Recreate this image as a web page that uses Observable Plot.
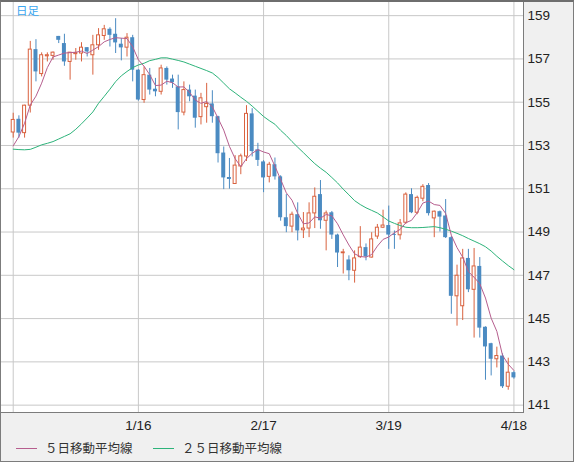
<!DOCTYPE html>
<html><head><meta charset="utf-8">
<script src="https://cdn.jsdelivr.net/npm/d3@7"></script>
<script src="https://cdn.jsdelivr.net/npm/@observablehq/plot@0.6"></script>
<style>
html,body{margin:0;padding:0;background:#fff;}
#wrap{position:relative;width:574px;height:462px;background:#f0f0f0;overflow:hidden;}
#chart{position:absolute;left:0;top:0;}
#border{position:absolute;left:0;top:0;width:574px;height:462px;box-sizing:border-box;border:1px solid #7c7c7c;border-top:2px solid #6e6e6e;pointer-events:none;}
#title{position:absolute;left:16px;top:2px;font-family:"Noto Sans CJK JP";font-size:11.5px;line-height:16px;color:#3aa6f0;}
.lg{position:absolute;top:439px;font-family:"Noto Sans CJK JP";font-size:12.5px;line-height:18px;color:#333;white-space:nowrap;}
.sw{position:absolute;top:448px;height:0;border-top:1px solid;}
</style></head><body>
<div id="wrap">
  <div id="chart"></div>
  <div id="title">日足</div>
  <div class="sw" id="sw5" style="left:16px;width:21px;border-color:#b65e8e"></div>
  <div class="lg" id="lg5" style="left:45px"></div>
  <div class="sw" id="sw25" style="left:153px;width:21px;border-color:#2db37a"></div>
  <div class="lg" id="lg25" style="left:182px"></div>
  <div id="border"></div>
</div>
<script>
// ---- data (USD/JPY daily) ----
const dates = ["12/17","12/18","12/19","12/20","12/23","12/24","12/25","12/26","12/27","12/30","12/31",
"1/1","1/2","1/3","1/6","1/7","1/8","1/9","1/10","1/13","1/14","1/15","1/16","1/17","1/20","1/21","1/22","1/23","1/24","1/27","1/28","1/29","1/30","1/31",
"2/3","2/4","2/5","2/6","2/7","2/10","2/11","2/12","2/13","2/14","2/17","2/18","2/19","2/20","2/21","2/24","2/25","2/26","2/27","2/28",
"3/3","3/4","3/5","3/6","3/7","3/10","3/11","3/12","3/13","3/14","3/17","3/18","3/19","3/20","3/21","3/24","3/25","3/26","3/27","3/28","3/31",
"4/1","4/2","4/3","4/4","4/7","4/8","4/9","4/10","4/11","4/14","4/15","4/16","4/17","4/18"];
const open = [153.60,154.21,153.57,154.84,157.43,156.30,157.12,157.14,158.04,157.71,156.86,157.22,157.25,157.52,157.17,157.63,158.06,158.37,158.14,157.68,157.52,157.98,156.48,155.10,156.25,155.60,155.48,156.56,156.07,155.71,154.52,155.56,155.28,154.31,154.77,154.92,154.33,152.65,151.52,151.22,152.03,152.49,154.46,152.80,152.24,151.55,152.11,151.55,149.66,149.25,149.80,149.08,149.16,149.86,150.73,149.52,149.89,148.86,148.02,147.71,147.21,147.84,148.28,147.82,148.79,149.20,149.30,148.88,148.85,149.43,150.73,149.89,150.54,151.15,149.63,149.94,149.74,148.74,146.03,145.57,147.78,146.33,147.41,144.60,143.84,143.12,143.27,141.85,142.50];
const high = [154.49,154.37,154.86,157.81,157.89,157.28,157.28,157.32,158.04,158.14,157.29,157.48,157.75,157.52,158.09,158.40,158.55,158.44,158.86,157.94,158.17,158.09,156.50,156.63,156.56,156.10,156.71,156.63,156.25,156.25,155.94,155.79,155.56,155.41,155.87,155.53,154.35,152.93,152.40,152.53,152.60,154.84,154.70,153.10,152.30,152.22,152.42,151.60,150.73,149.92,150.35,149.90,150.35,151.04,151.38,149.97,149.95,148.90,148.20,147.90,148.13,149.25,148.45,148.97,149.35,150.01,150.20,149.05,149.58,150.81,151.00,150.66,151.19,151.24,149.97,149.97,150.50,148.80,147.47,148.20,148.20,148.24,147.82,144.62,143.86,143.68,143.37,143.17,142.55];
const low = [153.34,153.34,153.34,154.50,155.94,156.17,156.86,156.94,157.71,156.66,156.02,156.94,156.86,157.09,156.25,157.40,157.86,157.55,157.25,156.91,157.09,155.94,155.05,154.95,155.33,155.25,155.33,155.79,155.64,153.72,154.37,155.02,153.80,153.95,154.03,154.03,152.19,150.96,150.98,151.20,151.65,152.26,152.47,152.03,150.82,151.27,151.40,149.50,148.97,148.97,148.59,148.70,148.74,149.16,149.13,148.13,148.66,147.36,147.06,146.75,146.64,147.78,147.67,147.80,148.66,149.16,148.20,148.20,148.63,149.35,149.85,149.80,150.40,149.74,148.74,149.00,148.70,145.20,144.65,144.91,146.20,144.10,144.10,142.15,142.35,142.72,141.77,141.69,142.20];
const close = [154.18,153.57,154.84,157.43,156.40,157.17,157.17,157.29,157.86,156.86,157.29,157.27,157.52,157.32,157.63,158.09,158.37,158.09,157.74,157.51,157.98,156.48,155.10,156.25,155.56,155.48,156.56,156.02,155.90,154.52,155.56,155.25,154.26,155.18,154.92,154.33,152.62,151.50,151.43,152.07,152.50,154.46,152.72,152.31,151.50,152.11,151.55,149.66,149.25,149.80,149.05,149.16,149.86,150.63,149.52,149.86,148.86,148.03,148.06,147.21,147.78,148.28,147.85,148.66,149.20,149.30,148.86,148.84,149.40,150.73,149.89,150.58,151.09,149.85,149.94,149.69,148.74,146.03,146.98,147.78,146.33,147.41,144.56,143.69,143.12,143.27,141.85,142.50,142.26];
const ma5 = [152.98,153.41,154.03,154.87,155.28,155.88,156.60,157.09,157.18,157.27,157.29,157.31,157.36,157.25,157.41,157.57,157.79,157.90,157.98,157.96,157.94,157.56,156.96,156.66,156.27,155.77,155.79,155.97,155.90,155.70,155.71,155.45,155.10,154.95,155.03,154.79,154.26,153.71,152.96,152.39,152.02,152.39,152.64,152.81,152.70,152.62,152.04,151.43,150.81,150.47,149.86,149.38,149.42,149.70,149.64,149.81,149.75,149.38,148.87,148.40,147.99,147.87,147.84,147.96,148.35,148.66,148.77,148.97,149.12,149.43,149.54,149.89,150.34,150.43,150.27,150.23,149.86,148.85,148.28,147.84,147.17,146.91,146.61,145.95,145.02,144.41,143.30,142.89,142.60];
const ma25 = [152.83,152.81,152.80,152.82,152.92,153.03,153.10,153.18,153.30,153.42,153.54,153.75,154.00,154.27,154.55,154.95,155.27,155.60,155.95,156.22,156.42,156.60,156.72,156.80,156.92,156.98,157.05,157.05,156.99,156.93,156.86,156.76,156.66,156.56,156.46,156.35,156.14,155.88,155.62,155.43,155.23,155.04,154.82,154.58,154.34,154.15,153.98,153.70,153.46,153.18,152.92,152.67,152.41,152.16,151.95,151.76,151.52,151.27,150.98,150.72,150.45,150.27,150.12,150.00,149.88,149.70,149.51,149.40,149.30,149.22,149.20,149.20,149.21,149.23,149.25,149.20,149.13,149.04,148.94,148.83,148.70,148.58,148.46,148.32,148.12,147.88,147.66,147.45,147.26];
const yTicks = [141,143,145,147,149,151,153,155,157,159];
const xTickLabels = ["1/16","2/17","3/19","4/18"];
const xGridDates = ["12/17","1/16","2/17","3/19","4/18"];
const legendLabels = ["５日移動平均線","２５日移動平均線"];
const seriesTitle = "日足";

// ---- build table ----
const table = dates.map((d, i) => ({date: d, open: open[i], high: high[i], low: low[i], close: close[i], ma5: ma5[i], ma25: ma25[i], up: close[i] >= open[i]}));
const ups = table.filter(d => d.up);
const downs = table.filter(d => !d.up);

const RED = "#d9623f", BLUE = "#4b8bc2", PINK = "#b65e8e", GREEN = "#2db37a", GRID = "#c8c8c8";

const chart = Plot.plot({
  width: 574,
  height: 440,
  marginLeft: 0,
  marginTop: 0,
  marginRight: 51,
  marginBottom: 28,
  style: {background: "transparent", fontFamily: "'Liberation Sans', Arial, sans-serif", fontSize: "13.5px", color: "#222"},
  x: {type: "band", domain: dates, range: [9.86, 516.27], paddingInner: 0.3, paddingOuter: 0.15},
  y: {domain: [140.66, 159.70]},
  marks: [
    Plot.frame({fill: "white"}),
    Plot.gridY(yTicks, {stroke: GRID, strokeOpacity: 1}),
    Plot.gridX(xGridDates, {stroke: GRID, strokeOpacity: 1}),
    Plot.ruleX(table, {x: "date", y1: "low", y2: "high", stroke: d => d.up ? RED : BLUE, strokeWidth: 1}),
    Plot.barY(downs, {x: "date", y1: "open", y2: "close", fill: BLUE}),
    Plot.barY(ups, {x: "date", y1: "open", y2: "close", fill: "white", stroke: RED, strokeWidth: 1, insetLeft: 0.5, insetRight: 0.5}),
    Plot.line(table, {x: "date", y: "ma25", stroke: GREEN, strokeWidth: 1}),
    Plot.line(table, {x: "date", y: "ma5", stroke: PINK, strokeWidth: 1}),
    Plot.axisY(yTicks, {anchor: "right", tickSize: 0, tickPadding: 4, label: null, fill: "#222"}),
    Plot.axisX(xTickLabels, {anchor: "bottom", tickSize: 0, tickPadding: 8, label: null, fill: "#222"}),
    Plot.frame({stroke: "#7c7c7c"})
  ]
});
document.getElementById("chart").appendChild(chart);
document.getElementById("title").textContent = seriesTitle;
document.getElementById("lg5").textContent = legendLabels[0];
document.getElementById("lg25").textContent = legendLabels[1];
</script>
</body></html>
